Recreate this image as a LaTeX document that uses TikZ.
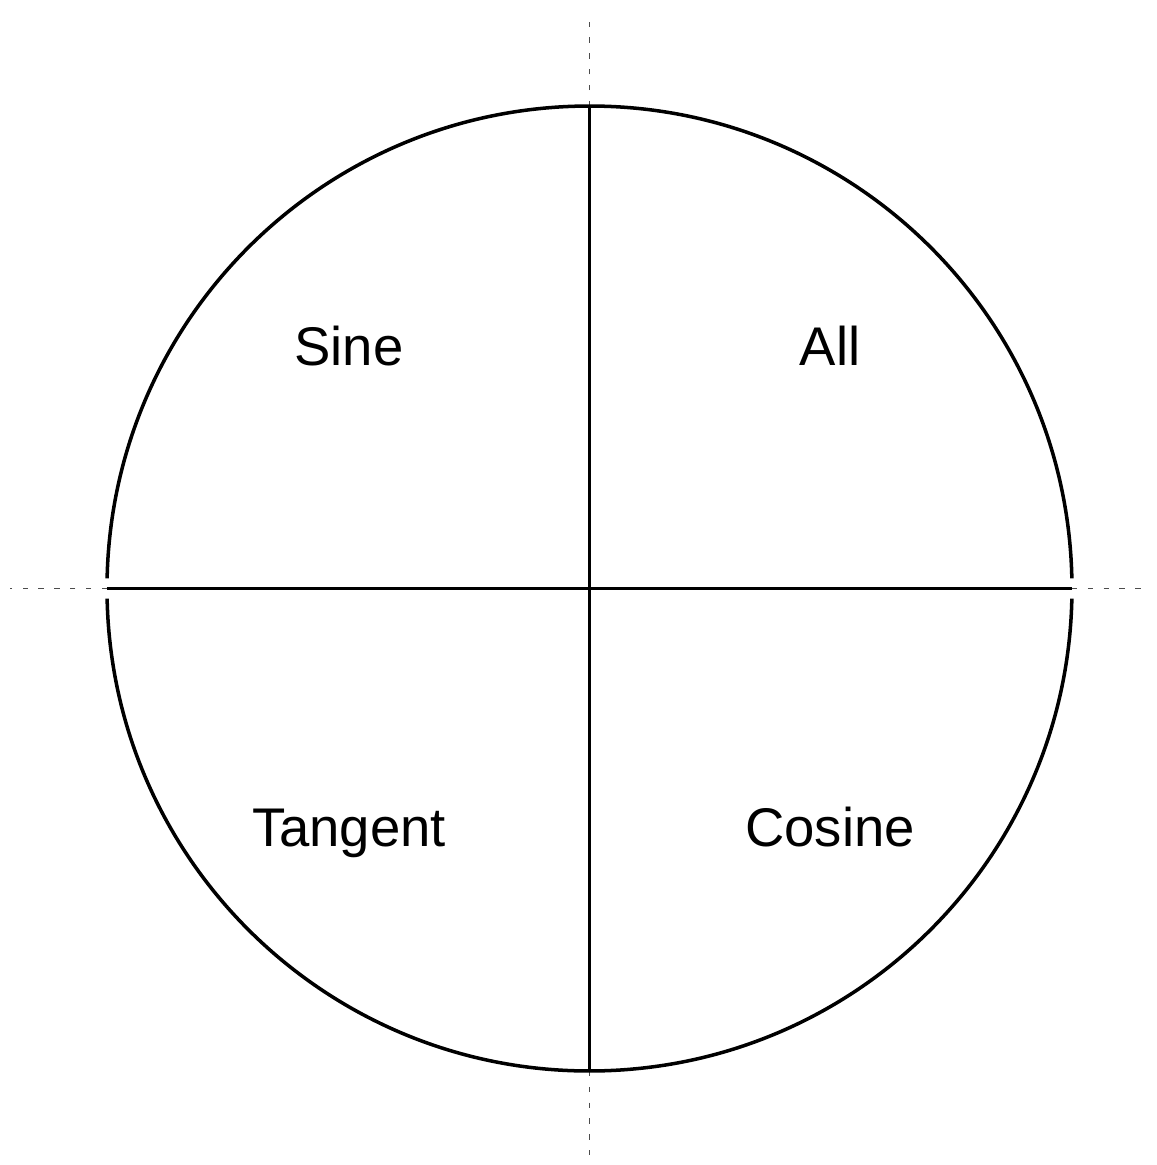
\documentclass[tikz,border=0pt]{standalone}
\usepackage{fontspec}
\setmainfont{Liberation Sans}
\usepackage{tikz}
\usetikzlibrary{positioning}

\begin{document}
\begin{tikzpicture}[scale=1]
  \useasboundingbox (-5.895,-5.765) rectangle (5.675,5.885);
  \tikzset{axis/.style={gray!60!black, line width=0.3pt, dash pattern=on 1.5pt off 3pt},
           quad/.style={font=\fontsize{15.5}{18}\selectfont, anchor=base, inner sep=0pt}}
  % Centre and ends of the axes
  \coordinate (o) at (0,0);
  \coordinate (w) at (-4.825,0);
  \coordinate (e) at (4.825,0);
  \coordinate (n) at (0,4.825);
  \coordinate (s) at (0,-4.825);
  % Dotted axes outside the circle
  \draw[axis] (w) -- ++(-0.97,0);
  \draw[axis] (e) -- ++(0.78,0);
  \draw[axis] (n) -- ++(0,0.9);
  \draw[axis] (s) -- ++(0,-0.93);
  % Circle, in two halves
  \draw[line width=1pt] (1.2:4.825) arc (1.2:178.8:4.825);
  \draw[line width=1pt] (181.2:4.825) arc (181.2:358.8:4.825);
  % Quadrant lines
  \draw[line width=1.1pt] (w) -- (e);
  \draw[line width=1.1pt] (n) -- (s);
  % Labels
  \foreach \x/\y/\name/\txt in {-2.405/2.235/sine/Sine, 2.405/2.235/all/All,
      -2.405/-2.58/tangent/Tangent, 2.405/-2.58/cosine/Cosine} {
    \node[quad] (\name) at (\x,\y) {\txt};
  }
\end{tikzpicture}
\end{document}
